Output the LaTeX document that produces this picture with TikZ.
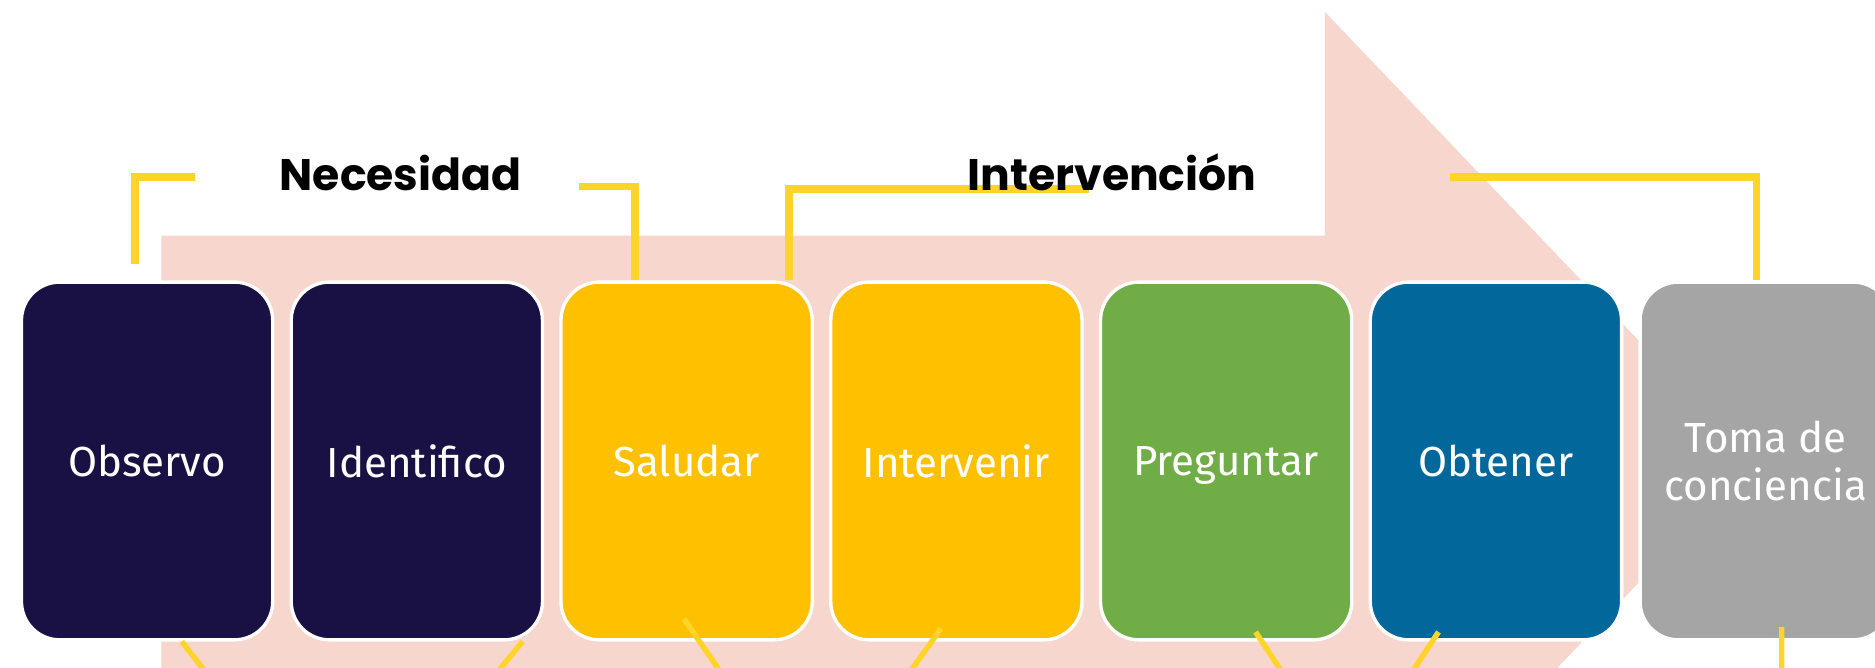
\documentclass[tikz,border=0pt]{standalone}
\usepackage{fontspec}
\setmainfont{Fira Sans}
\newfontfamily\titlefont{Poppins}
\definecolor{navy}{RGB}{25,17,68}
\definecolor{gold}{RGB}{255,192,0}
\definecolor{grass}{RGB}{112,173,71}
\definecolor{ocean}{RGB}{2,103,155}
\definecolor{ash}{RGB}{165,165,165}
\definecolor{blush}{RGB}{246,214,205}
\definecolor{amber}{RGB}{255,212,40}
\pgfdeclarelayer{bg}
\pgfsetlayers{bg,main}
\tikzset{
    stepbox/.style={rectangle, rounded corners=0.32cm, draw=white, line width=0.8pt,
        minimum width=2.1cm, minimum height=2.99cm, text=white, align=center, text depth=0pt,
        font=\fontsize{10}{11.3}\selectfont},
    headline/.style={inner sep=0pt, anchor=base, font=\titlefont\bfseries\fontsize{10.5}{12}\selectfont},
    bracket/.style={draw=amber, line width=1.8pt},
    leader/.style={draw=amber, line width=1.3pt},
}
\begin{document}
\begin{tikzpicture}[x=0.01cm, y=-0.01cm]
        \useasboundingbox (0,0) rectangle (1568,558);
        \clip (0,0) rectangle (1568,558);
        \foreach \i/\n/\c/\t in {0/obs/navy/Observo, 1/ide/navy/Identifico, 2/sal/gold/Saludar, 3/inv/gold/Intervenir, 4/pre/grass/Preguntar, 5/obt/ocean/Obtener, 6/tom/ash/{Toma de\\conciencia}}%
        {%
            \node[stepbox, fill=\c] (\n) at (123+225.6*\i, 385.5) {\t};
        }%
        \node[headline] (nec) at (335,159.5) {Necesidad};
        \node[headline] (int) at (930,159.5) {Intervención};
        % big arrow and brackets behind the steps
        \begin{pgfonlayer}{bg}
            \fill[blush] (135,197) -- (1108,197) -- (1108,10) -- (1467,386) -- (1108,762) -- (1108,575) -- (135,575) -- cycle;
            \draw[bracket] ([xshift=-0.1cm, yshift=0.14cm]obs.north) |- ([xshift=-0.7cm, yshift=0.115cm]nec.base west);
            \draw[bracket] ([xshift=0.47cm, yshift=0.035cm]nec.base east) -| ([xshift=-0.432cm]sal.north);
            \draw[bracket] ([xshift=0.858cm]sal.north) |- ([xshift=-0.19cm, yshift=0.015cm]int.base);
            \draw[bracket] ([xshift=1.61cm, yshift=0.115cm]int.base east) -| ([xshift=-0.076cm]tom.north);
        \end{pgfonlayer}
        % leaders going down
        \foreach \n/\dx/\dy/\ex in {obs/0.29/0/186, ide/0.884/0/401, sal/-0.022/0.19/615, inv/-0.128/0.11/748, pre/0.246/0.08/1084, obt/-0.48/0.08/1169, tom/0.134/0.12/1490}%
        {%
            \coordinate (\n-end) at (\ex,580);
            \draw[leader] ([xshift=\dx cm, yshift=\dy cm]\n.south) -- (\n-end);
        }%
\end{tikzpicture}
\end{document}
